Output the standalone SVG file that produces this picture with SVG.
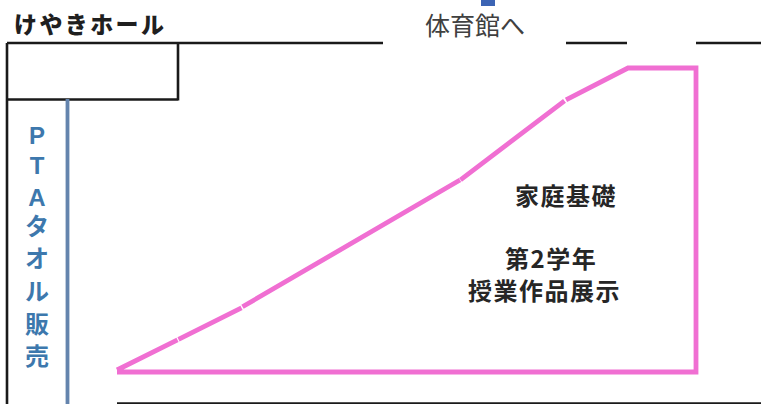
<svg xmlns="http://www.w3.org/2000/svg" width="761" height="404" viewBox="0 0 761 404">
<style>
.k{stroke:#1a1a1a;stroke-width:2.6;fill:none}
.p{stroke:#f06fd2;stroke-width:4.800;fill:none;stroke-linecap:butt}
.t{font-family:"Noto Sans CJK JP","Liberation Sans",sans-serif;font-weight:700;fill:#262626;font-size:24px;letter-spacing:1.500px}
.v{font-family:"Liberation Sans","Noto Sans CJK JP",sans-serif;font-weight:700;fill:#3d78ad;font-size:24px;text-anchor:middle}
</style>
<rect width="761" height="404" fill="#fff"/>
<g id="walls">
<path class="k" d="M7 43H383M566 43H627M696 43H761M7 43V404M7 99.500H178M178 43V100.500M117 403.500H761"/>
<rect x="481" y="0" width="14" height="6" fill="#3c64b4"/>
</g>
<g id="connectors">
<path d="M67.500 99V404" stroke="#6484ad" stroke-width="3.800" fill="none"/>
<path class="p" d="M117 370L177.500 339.800M178.500 339.300L241.500 307.800M242.500 306.800L460 180M460.500 179.800L564.500 100.800M566 99.800L628 68H696V372H117"/>
</g>
<g id="hall"><text x="14" y="33" font-family="'Noto Sans CJK JP',sans-serif" font-weight="900" font-size="23" fill="#1f1f1f" textLength="150">けやきホール</text></g>
<g id="gym"><text x="475" y="35" font-family="'Noto Sans CJK JP',sans-serif" font-size="25" fill="#404040" text-anchor="middle">体育館へ</text></g>
<g id="pta">
<text class="v" x="37" y="144">P</text><text class="v" x="37" y="174">T</text><text class="v" x="37" y="206">A</text>
<text class="v" x="37" y="235">タ</text><text class="v" x="37" y="267">オ</text><text class="v" x="37" y="300">ル</text>
<text class="v" x="37" y="333">販</text><text class="v" x="37" y="365">売</text>
</g>
<g id="exhibit">
<text class="t" x="515" y="205">家庭基礎</text>
<text class="t" x="505" y="268">第2学年</text>
<text class="t" x="468" y="300">授業作品展示</text>
</g>
</svg>
